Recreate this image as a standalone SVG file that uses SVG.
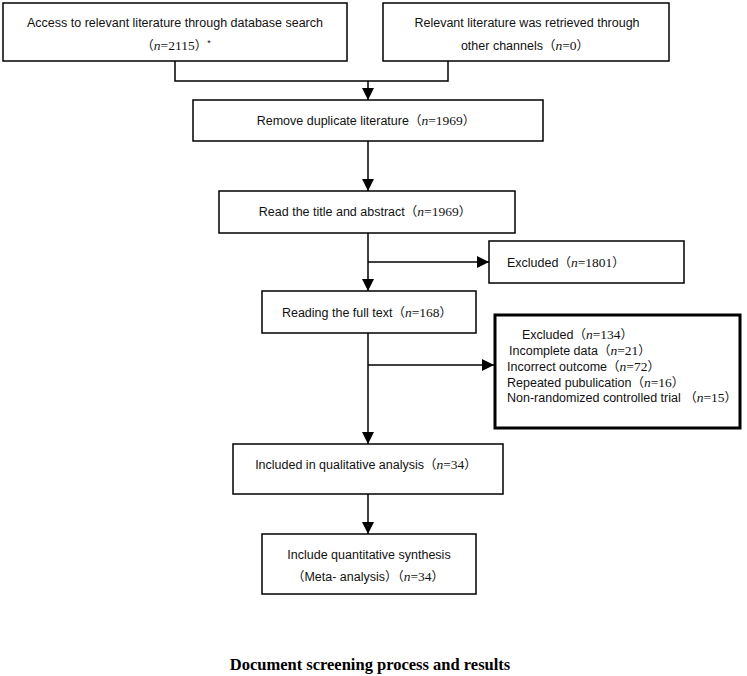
<svg xmlns="http://www.w3.org/2000/svg" width="747" height="676" viewBox="0 0 747 676">
<style>
.box{fill:#fff;stroke:#000;stroke-width:1.5}
.thick{fill:#fff;stroke:#000;stroke-width:3}
.t{font-family:"Liberation Sans","Noto Sans CJK SC",sans-serif;font-size:12.5px;fill:#111}
.s{font-family:"Liberation Serif","Noto Sans CJK SC",serif;font-size:13.5px}
.c{text-anchor:middle}
.line{fill:none;stroke:#000;stroke-width:1.5}
.cap{font-family:"Liberation Serif",serif;font-size:16.5px;font-weight:bold;fill:#000}
</style>
<defs>
<marker id="ah" viewBox="0 0 10 10" refX="10" refY="5" markerWidth="10" markerHeight="10" markerUnits="userSpaceOnUse" orient="auto">
<path d="M0,0 L10,5 L0,10 Z" fill="#000"/>
</marker>
<marker id="ahl" viewBox="0 0 12 12" refX="12" refY="6" markerWidth="12" markerHeight="12" markerUnits="userSpaceOnUse" orient="auto">
<path d="M0,0 L12,6 L0,12 Z" fill="#000"/>
</marker>
</defs>
<rect width="747" height="676" fill="#fff"/>
<g id="connectors">
<path class="line" d="M175,61 V81 H448 V61"/>
<path class="line" d="M368,81 V100" marker-end="url(#ahl)"/>
<path class="line" d="M368,141 V191" marker-end="url(#ahl)"/>
<path class="line" d="M368,233 V291" marker-end="url(#ahl)"/>
<path class="line" d="M368,262 H489" marker-end="url(#ahl)"/>
<path class="line" d="M368,333 V444" marker-end="url(#ahl)"/>
<path class="line" d="M368,365 H494" marker-end="url(#ahl)"/>
<path class="line" d="M368,494 V534" marker-end="url(#ahl)"/>
</g>
<g id="node-database">
<rect class="box" x="3" y="3" width="344" height="58"/>
<text class="t c" x="175" y="27">Access to relevant literature through database search</text>
<text class="t c" x="176" y="50">（<tspan class="s" font-style="italic">n</tspan><tspan class="s">=2115</tspan>）<tspan font-size="9" dy="-4">*</tspan></text>
</g>
<g id="node-other">
<rect class="box" x="383" y="3" width="286" height="58"/>
<text class="t c" x="527" y="27">Relevant literature was retrieved through</text>
<text class="t c" x="525" y="50">other channels（<tspan class="s" font-style="italic">n</tspan><tspan class="s">=0</tspan>）</text>
</g>
<g id="node-duplicate">
<rect class="box" x="193" y="100" width="350" height="41"/>
<text class="t c" x="366" y="125">Remove duplicate literature（<tspan class="s" font-style="italic">n</tspan><tspan class="s">=1969</tspan>）</text>
</g>
<g id="node-title">
<rect class="box" x="219" y="191" width="296" height="42"/>
<text class="t c" x="365" y="216">Read the title and abstract（<tspan class="s" font-style="italic">n</tspan><tspan class="s">=1969</tspan>）</text>
</g>
<g id="node-excluded1">
<rect class="box" x="489" y="241" width="195" height="42"/>
<text class="t" x="507" y="267">Excluded（<tspan class="s" font-style="italic">n</tspan><tspan class="s">=1801</tspan>）</text>
</g>
<g id="node-fulltext">
<rect class="box" x="262" y="291" width="214" height="42"/>
<text class="t c" x="367" y="317">Reading the full text（<tspan class="s" font-style="italic">n</tspan><tspan class="s">=168</tspan>）</text>
</g>
<g id="node-excluded2">
<rect class="thick" x="495" y="315" width="245" height="113"/>
<text class="t" x="522" y="339">Excluded（<tspan class="s" font-style="italic">n</tspan><tspan class="s">=134</tspan>）</text>
<text class="t" x="509" y="355">Incomplete data（<tspan class="s" font-style="italic">n</tspan><tspan class="s">=21</tspan>）</text>
<text class="t" x="507" y="371">Incorrect outcome（<tspan class="s" font-style="italic">n</tspan><tspan class="s">=72</tspan>）</text>
<text class="t" x="507" y="387">Repeated pubulication（<tspan class="s" font-style="italic">n</tspan><tspan class="s">=16</tspan>）</text>
<text class="t" x="507" y="402">Non-randomized controlled trial （<tspan class="s" font-style="italic">n</tspan><tspan class="s">=15</tspan>）</text>
</g>
<g id="node-qualitative">
<rect class="box" x="233" y="444" width="270" height="50"/>
<text class="t c" x="366" y="469">Included in qualitative analysis（<tspan class="s" font-style="italic">n</tspan><tspan class="s">=34</tspan>）</text>
</g>
<g id="node-quantitative">
<rect class="box" x="262" y="534" width="214" height="60"/>
<text class="t c" x="369" y="559">Include quantitative synthesis</text>
<text class="t c" x="368" y="581">（Meta- analysis）（<tspan class="s" font-style="italic">n</tspan><tspan class="s">=34</tspan>）</text>
</g>
<text class="cap c" x="370" y="670">Document screening process and results</text>
</svg>
